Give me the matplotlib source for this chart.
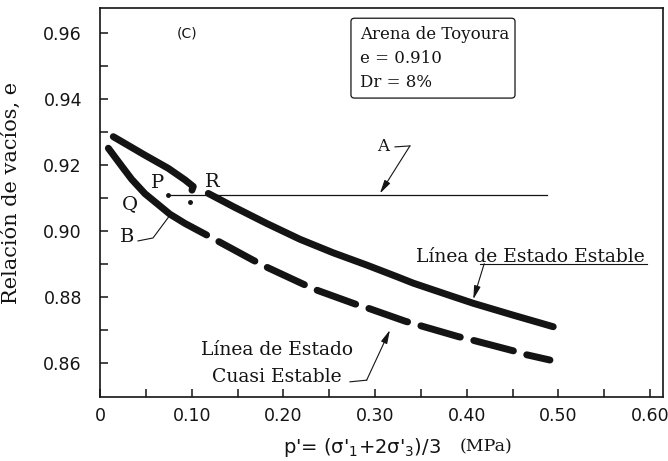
import matplotlib
matplotlib.use("Agg")
import matplotlib.pyplot as plt
from matplotlib.patches import FancyBboxPatch

plt.rcParams['lines.scale_dashes'] = False

# Steady-state line (Línea de Estado Estable), two solid pieces
steady1_p = [0.0145, 0.0490, 0.0745, 0.0927, 0.1017, 0.1003]
steady1_e = [0.9286, 0.9230, 0.9190, 0.9155, 0.9135, 0.9124]
steady2_p = [0.1181, 0.1454, 0.1818, 0.2181, 0.2544, 0.2908, 0.3235, 0.3417,
             0.3780, 0.4071, 0.4507, 0.4943]
steady2_e = [0.9114, 0.9074, 0.9023, 0.8975, 0.8934, 0.8897, 0.8862, 0.8842,
             0.8808, 0.8781, 0.8745, 0.8710]

# Quasi steady-state line (Línea de Estado Cuasi Estable)
quasi_p = [0.0091, 0.0236, 0.0345, 0.0491, 0.0636, 0.0763, 0.0927, 0.1163,
           0.1309, 0.1654, 0.1799, 0.2217, 0.2363, 0.2781, 0.2926, 0.3326,
           0.3471, 0.3907, 0.4053, 0.4507, 0.4653, 0.4907]
quasi_e = [0.9251, 0.9197, 0.9157, 0.9113, 0.9080, 0.9051, 0.9023, 0.8988,
           0.8966, 0.8914, 0.8893, 0.8839, 0.8821, 0.8779, 0.8766, 0.8727,
           0.8715, 0.8680, 0.8670, 0.8637, 0.8625, 0.8609]
quasi_solid_end = 7  # index where the solid part ends and dashes begin

# Horizontal line A (e = 0.910)
lineA_p = [0.074, 0.487]
lineA_e = [0.911, 0.911]
dots_p = [0.074, 0.098]
dots_e = [0.911, 0.9087]

xticks = [0, 0.10, 0.20, 0.30, 0.40, 0.50, 0.60]
xticklabels = ["0", "0.10", "0.20", "0.30", "0.40", "0.50", "0.60"]
yticks = [0.86, 0.88, 0.90, 0.92, 0.94, 0.96]
yticklabels = ["0.86", "0.88", "0.90", "0.92", "0.94", "0.96"]

ink = "#141414"
serif = "DejaVu Serif"

fig = plt.figure(figsize=(6.68, 4.61), dpi=100)
ax = fig.add_axes([100/668, 64/461, 563/668, 389/461])
ax.set_xlim(0, 0.614)
ax.set_ylim(0.8497, 0.9676)

lw = 5.0
ax.plot(steady1_p, steady1_e, color=ink, lw=lw, solid_capstyle='round', solid_joinstyle='round')
ax.plot(steady2_p, steady2_e, color=ink, lw=lw, solid_capstyle='round', solid_joinstyle='round')
ax.plot(quasi_p[:quasi_solid_end + 1], quasi_e[:quasi_solid_end + 1], color=ink, lw=lw,
        solid_capstyle='round', solid_joinstyle='round')
ax.plot(quasi_p[quasi_solid_end:], quasi_e[quasi_solid_end:], color=ink, lw=lw,
        dash_capstyle='round', dash_joinstyle='round',
        linestyle=(29.5, (29.5, 10.0)))
ax.plot(lineA_p, lineA_e, color=ink, lw=0.9)
ax.plot(dots_p, dots_e, 'o', color=ink, ms=2.5, lw=0)

ax.set_xticks(xticks)
ax.set_xticklabels(xticklabels)
ax.set_yticks(yticks)
ax.set_yticklabels(yticklabels)
ax.set_xticks([0.05, 0.15, 0.25, 0.35, 0.45, 0.55], minor=True)
ax.set_yticks([0.87, 0.89, 0.91, 0.93, 0.95], minor=True)
ax.tick_params(which='both', direction='in', length=6, width=1.1, color=ink,
               labelsize=12.5, labelcolor=ink)
ax.tick_params(axis='x', pad=7)
ax.tick_params(axis='y', pad=13)
for s in ax.spines.values():
    s.set_linewidth(1.2)
    s.set_color(ink)

arrow_kw = dict(arrowstyle='-|>,head_length=0.9,head_width=0.22', color=ink,
                lw=0.8, mutation_scale=9, shrinkA=0, shrinkB=0)

# Labels
ax.text(0.095, 0.96, "(C)", fontsize=10, ha='center', va='center', color=ink)
ax.text(0.063, 0.9145, "P", family=serif, fontsize=14, ha='center', va='center', color=ink)
ax.text(0.123, 0.9148, "R", family=serif, fontsize=14, ha='center', va='center', color=ink)
ax.text(0.033, 0.9081, "Q", family=serif, fontsize=14, ha='center', va='center', color=ink)
ax.text(0.030, 0.8982, "B", family=serif, fontsize=14, ha='center', va='center', color=ink)
ax.plot([0.0414, 0.0578, 0.0763], [0.8970, 0.8979, 0.9048], color=ink, lw=0.8)

ax.text(0.3086, 0.9255, "A", family=serif, fontsize=12, ha='center', va='center', color=ink)
ax.plot([0.3217, 0.338], [0.9255, 0.9258], color=ink, lw=0.8)
ax.annotate("", xy=(0.3053, 0.9114), xytext=(0.338, 0.9258), arrowprops=arrow_kw)

# Info box
box = FancyBboxPatch((0.2737, 0.9403), 0.4526 - 0.2737, 0.9645 - 0.9403,
                     boxstyle="round,pad=0,rounding_size=0.004",
                     transform=ax.transData, fill=False, ec=ink, lw=0.9,
                     mutation_aspect=0.25)
ax.add_patch(box)
ax.text(0.2835, 0.9583, "Arena de Toyoura", family=serif, fontsize=12, va='baseline', color=ink)
ax.text(0.2835, 0.9509, "e = 0.910", family=serif, fontsize=12, va='baseline', color=ink)
ax.text(0.2835, 0.9436, "Dr = 8%", family=serif, fontsize=12, va='baseline', color=ink)

# Steady state label
ax.text(0.469, 0.8906, "Línea de Estado Estable", family=serif, fontsize=13.5,
        ha='center', va='baseline', color=ink)
ax.plot([0.4144, 0.5965], [0.8901, 0.8901], color=ink, lw=0.8)
ax.annotate("", xy=(0.4071, 0.8793), xytext=(0.4190, 0.8901), arrowprops=arrow_kw)

# Quasi steady label
ax.text(0.193, 0.8624, "Línea de Estado", family=serif, fontsize=13.5,
        ha='center', va='baseline', color=ink)
ax.text(0.193, 0.8543, "Cuasi Estable", family=serif, fontsize=13.5,
        ha='center', va='baseline', color=ink)
ax.plot([0.2726, 0.2908], [0.8543, 0.8548], color=ink, lw=0.8)
ax.annotate("", xy=(0.3162, 0.8700), xytext=(0.2908, 0.8548), arrowprops=arrow_kw)

# Axis titles
fig.text(283/668, 1 - 447/461, "p'= (σ'$_1$+2σ'$_3$)/3", fontsize=14,
         ha='left', va='center', color=ink)
fig.text(460/668, 1 - 447/461, "(MPa)", family=serif, fontsize=12.5,
         ha='left', va='center', color=ink)
fig.text(21/668, 1 - 193/461, "Relación de vacíos, e", family=serif, fontsize=15,
         rotation=90, ha='right', va='center', color=ink)

fig.savefig("out.png", dpi=100, facecolor='white')
